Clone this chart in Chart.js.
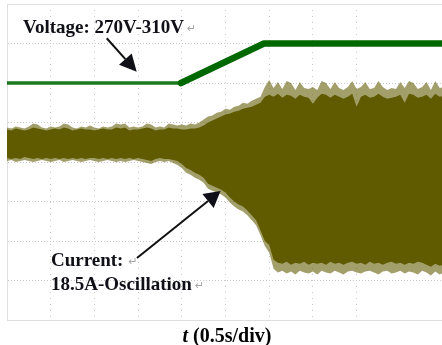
<!DOCTYPE html>
<html>
<head>
<meta charset="utf-8">
<script src="https://cdn.jsdelivr.net/npm/chart.js@4.4.1/dist/chart.umd.min.js"></script>
<style>
  html, body { margin: 0; padding: 0; background: #ffffff; }
  canvas { display: block; }
</style>
</head>
<body>
<canvas id="scope" width="442" height="345"></canvas>
<script>
// Oscilloscope capture: DC-link voltage stepped from 270 V to 310 V,
// and the phase current that starts oscillating afterwards.

const SAMPLE_STEP = 0.05;   // s between current envelope samples
const VOLT_PER_DIV = 40;    // V / div
const AMP_PER_DIV = 4;      // A / div

// Voltage trace (time in s, value in V)
const voltTime  = [0, 1.99, 2.94, 5.0];
const voltValue = [270, 270, 310, 310];

// Current trace envelope (A), one value per sample
// outer tips of the oscillation spikes (upper side)
const currentPeakHigh = [
  3.5, 3.4, 3.6, 3.5, 3.4, 3.6, 3.9, 3.8, 3.5, 3.4,
  3.6, 3.5, 3.6, 3.9, 3.8, 3.5, 3.4, 3.6, 3.5, 3.7,
  3.5, 3.4, 3.6, 3.5, 3.6, 3.9, 3.8, 3.9, 3.5, 3.6,
  3.5, 3.6, 3.9, 3.8, 3.5, 3.6, 3.5, 3.9, 3.8, 3.7,
  3.8, 3.7, 3.9, 3.8, 4.0, 4.3, 4.6, 4.7, 5.0, 5.1,
  5.4, 5.3, 5.6, 5.7, 6.0, 5.9, 6.2, 6.4, 6.6, 7.6,
  8.3, 7.5, 8.1, 7.4, 8.2, 8.0, 7.3, 8.1, 7.5, 7.4,
  7.6, 7.3, 8.2, 8.0, 7.4, 8.1, 7.5, 7.3, 7.6, 8.2,
  7.4, 7.6, 8.1, 7.4, 7.5, 8.2, 7.6, 7.3, 7.5, 7.4,
  8.1, 7.5, 8.2, 8.0, 7.4, 7.6, 8.1, 7.3, 8.2, 7.5, 7.6
];
// dense body of the trace (upper side)
const currentBodyHigh = [
  3.3, 3.2, 3.4, 3.3, 3.2, 3.3, 3.5, 3.4, 3.3, 3.2,
  3.3, 3.4, 3.3, 3.5, 3.4, 3.2, 3.3, 3.4, 3.3, 3.3,
  3.2, 3.3, 3.4, 3.3, 3.3, 3.5, 3.4, 3.5, 3.2, 3.3,
  3.3, 3.4, 3.5, 3.4, 3.2, 3.3, 3.3, 3.5, 3.4, 3.4,
  3.3, 3.3, 3.4, 3.4, 3.5, 3.7, 4.0, 4.2, 4.4, 4.6,
  4.8, 4.9, 5.1, 5.2, 5.4, 5.5, 5.6, 5.8, 6.0, 6.6,
  6.8, 6.6, 6.9, 6.5, 6.8, 6.7, 6.4, 6.8, 6.6, 6.5,
  5.9, 6.5, 6.9, 6.8, 6.5, 6.8, 6.6, 6.4, 6.6, 6.9,
  5.6, 6.6, 6.8, 6.5, 6.6, 6.9, 6.6, 6.4, 6.5, 6.6,
  6.8, 6.0, 6.9, 6.8, 6.5, 6.6, 6.8, 6.4, 6.9, 6.6, 6.7
];
// dense body of the trace (lower side)
const currentBodyLow = [
  0.4, 0.3, 0.4, 0.3, 0.5, 0.4, 0.3, 0.4, 0.3, 0.4,
  0.3, 0.4, 0.3, 0.4, 0.3, 0.4, 0.3, 0.4, 0.3, 0.4,
  0.4, 0.3, 0.4, 0.3, 0.4, 0.3, 0.4, 0.3, 0.4, 0.3,
  0.4, 0.3, 0.2, 0.1, 0.3, 0.4, 0.3, 0.3, 0.2, 0.1,
  -0.2, -0.6, -0.8, -1.1, -1.3, -1.6, -2.2, -2.4, -2.6, -2.8,
  -3.1, -3.6, -4.0, -4.3, -4.5, -4.9, -5.4, -5.9, -6.9, -8.0,
  -8.4, -9.9, -10.2, -10.3, -10.1, -10.4, -10.2, -10.3, -10.1, -10.4,
  -10.2, -10.3, -10.2, -10.4, -10.1, -10.3, -10.2, -10.4, -10.2, -10.1,
  -10.3, -10.2, -10.4, -10.1, -10.3, -10.2, -10.4, -10.2, -10.1, -10.3,
  -10.2, -10.4, -10.2, -10.3, -10.1, -10.2, -10.4, -10.6, -10.3, -10.5, -10.4
];
// outer tips of the oscillation spikes (lower side)
const currentPeakLow = [
  0.1, 0.2, 0.0, 0.1, 0.2, 0.1, 0.0, 0.1, 0.2, 0.1,
  0.0, 0.1, 0.2, 0.0, 0.1, 0.2, 0.1, 0.0, 0.1, 0.2,
  0.1, 0.0, 0.1, 0.2, 0.1, 0.0, 0.1, 0.0, 0.1, 0.2,
  0.1, 0.0, -0.1, -0.2, 0.0, 0.1, 0.0, 0.1, -0.1, -0.3,
  -0.6, -1.1, -1.3, -1.6, -1.8, -2.1, -2.7, -2.9, -3.1, -3.3,
  -3.6, -4.1, -4.5, -4.8, -5.0, -5.4, -5.9, -6.4, -7.4, -8.5,
  -9.2, -10.8, -11.2, -11.0, -11.3, -11.1, -11.4, -11.0, -11.2, -11.3,
  -11.1, -11.4, -11.0, -11.2, -11.3, -11.0, -11.2, -11.4, -11.1, -11.0,
  -11.2, -11.3, -11.1, -11.0, -11.2, -11.4, -11.1, -11.0, -11.3, -11.2,
  -11.0, -11.3, -11.1, -11.2, -11.4, -11.0, -11.2, -11.5, -11.1, -11.4, -11.2
];

// Annotation texts and where they sit (time in s, value on the matching axis)
const voltNote = { text: 'Voltage: 270V-310V', t: 0.183, v: 320.6,
                   arrowFrom: [1.141, 315.3], arrowTo: [1.484, 281.4] };
const currNote = { lines: ['Current:', '18.5A-Oscillation'], t: 0.503, v: [-10.53, -12.96],
                   arrowFrom: [1.487, -9.72], arrowTo: [2.443, -2.94] };
const axisLabelItalic = 't';
const axisLabelRest = ' (0.5s/div)';

const sampleTimes = currentBodyHigh.map((_, i) => +(i * SAMPLE_STEP).toFixed(2));
const toPoints = (vals) => vals.map((y, i) => ({ x: sampleTimes[i], y }));

const OLIVE = 'rgb(96, 90, 0)';
const OLIVE_FRINGE = 'rgba(96, 90, 0, 0.58)';
const SERIF = '"Liberation Serif", "Times New Roman", serif';
const RETURN_MARK = '\u21B5';

function drawArrow(ctx, x0, y0, x1, y1, len, half) {
  const dx = x1 - x0, dy = y1 - y0;
  const d = Math.hypot(dx, dy);
  const ux = dx / d, uy = dy / d;
  const bx = x1 - ux * len, by = y1 - uy * len;
  ctx.beginPath();
  ctx.moveTo(x0, y0);
  ctx.lineTo(bx, by);
  ctx.stroke();
  ctx.beginPath();
  ctx.moveTo(x1, y1);
  ctx.lineTo(bx - uy * half, by + ux * half);
  ctx.lineTo(bx + uy * half, by - ux * half);
  ctx.closePath();
  ctx.fill();
}

function drawReturnMark(ctx, x, y) {
  ctx.save();
  ctx.font = '11px "DejaVu Sans", sans-serif';
  ctx.fillStyle = '#a6a6a6';
  ctx.textBaseline = 'alphabetic';
  ctx.fillText(RETURN_MARK, x, y);
  ctx.restore();
}

const annotations = {
  id: 'scopeAnnotations',
  afterDatasetsDraw(chart) {
    const { ctx, chartArea, scales: { x, yV, yI } } = chart;
    ctx.save();

    // frame top edge
    ctx.strokeStyle = '#e2e2e2';
    ctx.lineWidth = 1;
    ctx.beginPath();
    ctx.moveTo(chartArea.left, chartArea.top + 0.5);
    ctx.lineTo(chartArea.right, chartArea.top + 0.5);
    ctx.stroke();

    ctx.fillStyle = '#101018';
    ctx.strokeStyle = '#101010';
    ctx.lineWidth = 2;
    ctx.font = 'bold 19px ' + SERIF;
    ctx.textBaseline = 'alphabetic';
    ctx.textAlign = 'left';

    // voltage note
    let px = x.getPixelForValue(voltNote.t);
    let py = yV.getPixelForValue(voltNote.v);
    ctx.fillText(voltNote.text, px, py);
    drawReturnMark(ctx, px + ctx.measureText(voltNote.text).width + 3, py - 1);
    drawArrow(ctx,
      x.getPixelForValue(voltNote.arrowFrom[0]), yV.getPixelForValue(voltNote.arrowFrom[1]),
      x.getPixelForValue(voltNote.arrowTo[0]), yV.getPixelForValue(voltNote.arrowTo[1]), 17, 8.5);

    // current note
    px = x.getPixelForValue(currNote.t);
    currNote.lines.forEach((line, k) => {
      const ly = yI.getPixelForValue(currNote.v[k]);
      ctx.fillText(line, px, ly);
      drawReturnMark(ctx, px + ctx.measureText(line).width + (k === 0 ? 5 : 3), ly - 1);
    });
    drawArrow(ctx,
      x.getPixelForValue(currNote.arrowFrom[0]), yI.getPixelForValue(currNote.arrowFrom[1]),
      x.getPixelForValue(currNote.arrowTo[0]), yI.getPixelForValue(currNote.arrowTo[1]), 16, 9);

    // time-base label under the screen
    ctx.fillStyle = '#000000';
    const italicFont = 'italic bold 20px ' + SERIF;
    const boldFont = 'bold 20px ' + SERIF;
    ctx.font = italicFont;
    const w1 = ctx.measureText(axisLabelItalic).width;
    ctx.font = boldFont;
    const w2 = ctx.measureText(axisLabelRest).width;
    const cx = (chartArea.left + chartArea.right) / 2 + 2.5;
    const startX = cx - (w1 + w2) / 2;
    const by = chartArea.bottom + 22;
    ctx.font = italicFont;
    ctx.fillText(axisLabelItalic, startX, by);
    ctx.font = boldFont;
    ctx.fillText(axisLabelRest, startX + w1, by);

    ctx.restore();
  }
};

const bandStyle = { borderWidth: 0, borderColor: 'rgba(0,0,0,0)', pointRadius: 0, tension: 0, yAxisID: 'yI' };

new Chart(document.getElementById('scope'), {
  type: 'line',
  data: {
    datasets: [
      Object.assign({ label: 'Current body', data: toPoints(currentBodyHigh), fill: '+1', backgroundColor: OLIVE }, bandStyle),
      Object.assign({ label: 'Current body low', data: toPoints(currentBodyLow), fill: false }, bandStyle),
      Object.assign({ label: 'Current peaks', data: toPoints(currentPeakHigh), fill: '+1', backgroundColor: OLIVE_FRINGE }, bandStyle),
      Object.assign({ label: 'Current peaks low', data: toPoints(currentPeakLow), fill: false }, bandStyle),
      {
        label: 'Voltage',
        data: voltTime.map((t, i) => ({ x: t, y: voltValue[i] })),
        yAxisID: 'yV',
        borderColor: 'rgb(0, 104, 0)',
        borderWidth: 6.5,
        borderCapStyle: 'round',
        borderJoinStyle: 'round',
        pointRadius: 0,
        fill: false,
        tension: 0,
        segment: {
          borderWidth: (c) => (c.p0DataIndex === 0 ? 3.5 : 6.5),
          borderColor: (c) => (c.p0DataIndex === 0 ? 'rgb(28, 122, 28)' : 'rgb(0, 104, 0)')
        }
      }
    ]
  },
  options: {
    responsive: false,
    animation: false,
    devicePixelRatio: 1,
    layout: { padding: { left: 7, top: 4, right: 0, bottom: 25 } },
    plugins: { legend: { display: false }, tooltip: { enabled: false }, title: { display: false } },
    scales: {
      x: {
        type: 'linear',
        min: 0,
        max: 4.977,
        ticks: { display: false, stepSize: 0.5 },
        grid: { color: '#c9c9c9', lineWidth: 1, drawTicks: false },
        border: { display: true, color: '#dedede', dash: [1, 5] }
      },
      yV: {
        type: 'linear',
        position: 'left',
        min: 350 - 8 * VOLT_PER_DIV,
        max: 350,
        ticks: { display: false, stepSize: VOLT_PER_DIV },
        grid: { color: '#c9c9c9', lineWidth: 1, drawTicks: false },
        border: { display: true, color: '#dedede', dash: [1, 2] }
      },
      yI: {
        type: 'linear',
        display: false,
        min: -4 * AMP_PER_DIV,
        max: 4 * AMP_PER_DIV
      }
    }
  },
  plugins: [annotations]
});
</script>
</body>
</html>
